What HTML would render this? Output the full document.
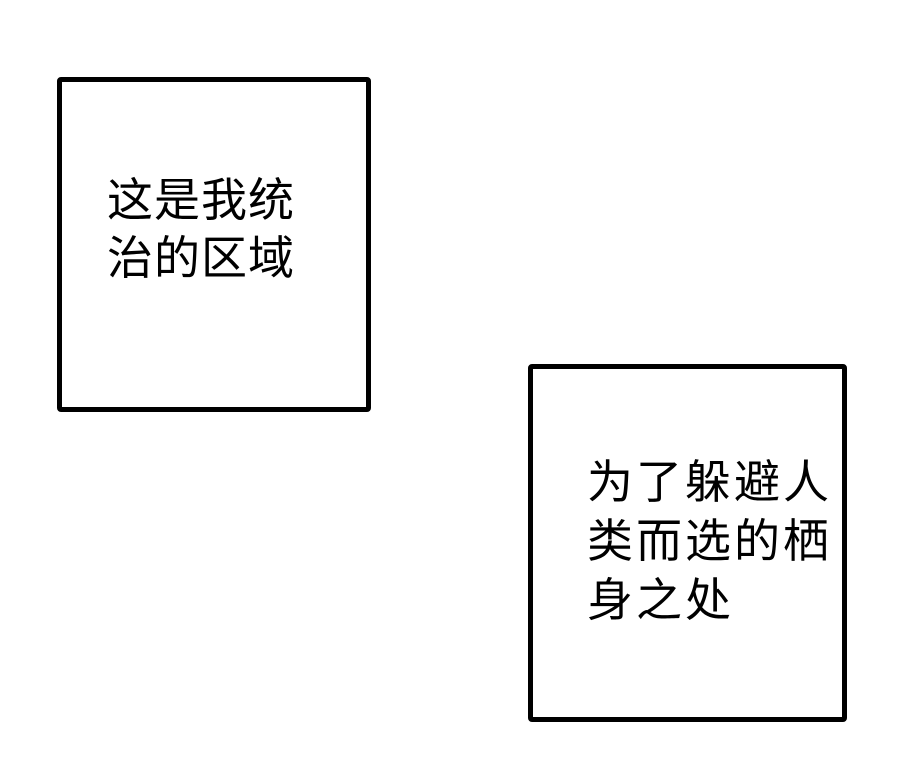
<!DOCTYPE html>
<html><head><meta charset="utf-8"><style>
html,body{margin:0;padding:0;background:#fff;width:900px;height:759px;overflow:hidden;position:relative}
.b{position:absolute;border:5px solid #000;border-radius:4px;box-sizing:border-box;background:#fff}
.t{position:absolute;font-family:"Liberation Sans","Noto Sans CJK SC",sans-serif;font-size:46px;line-height:58px;color:#000;white-space:nowrap;letter-spacing:1px}
</style></head><body>
<div class="b" style="left:57px;top:77px;width:314px;height:335px"></div>
<div class="t" style="left:107px;top:171px">这是我统<br>治的区域</div>
<div class="b" style="left:528px;top:364px;width:319px;height:358px"></div>
<div class="t" style="left:587px;top:453px;line-height:59px;letter-spacing:3px">为了躲避人<br>类而选的栖<br>身之处</div>
</body></html>
